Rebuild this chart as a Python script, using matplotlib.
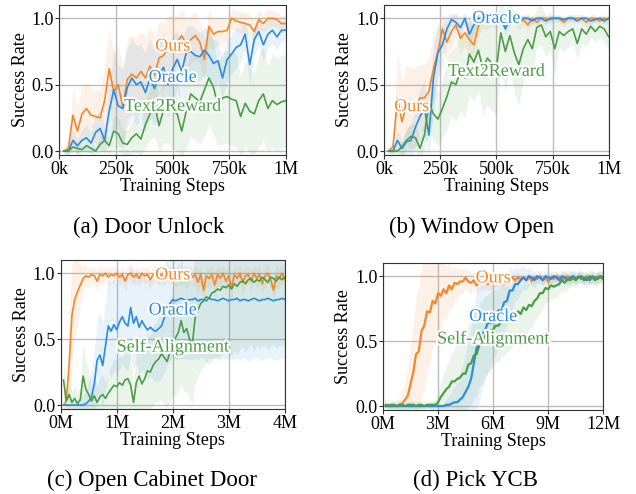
# Success-rate curves for four tasks (2x2 grid)
import numpy as np
import matplotlib
matplotlib.use('Agg')
import matplotlib.pyplot as plt
import matplotlib.patheffects as pe

plt.rcParams['font.family'] = ['Liberation Serif', 'DejaVu Serif']

ORANGE = '#f5872a'
BLUE = '#2a8be3'
GREEN = '#4b9e45'

# ---- (a) Door Unlock, evaluated every 20k steps ----
ours_a = [0.00, 0.02, 0.27, 0.15, 0.28, 0.32, 0.27, 0.26, 0.25, 0.38,
          0.62, 0.45, 0.50, 0.33, 0.54, 0.58, 0.55, 0.60, 0.55, 0.64,
          0.57, 0.70, 0.72, 0.78, 0.80, 0.82, 0.87, 0.80, 0.84, 0.87,
          0.82, 0.69, 0.94, 0.88, 0.90, 0.90, 0.91, 1.00, 0.98, 0.97,
          0.96, 0.95, 0.90, 0.99, 0.96, 1.00, 1.00, 0.99, 0.96, 0.96]
oracle_a = [0.00, 0.00, 0.08, 0.04, 0.08, 0.10, 0.06, 0.14, 0.17, 0.08,
            0.30, 0.46, 0.34, 0.32, 0.48, 0.55, 0.50, 0.52, 0.44, 0.55,
            0.47, 0.58, 0.63, 0.50, 0.62, 0.69, 0.60, 0.74, 0.75, 0.72,
            0.71, 0.76, 0.72, 0.66, 0.68, 0.55, 0.69, 0.73, 0.78, 0.80,
            0.88, 0.65, 0.84, 0.90, 0.80, 0.88, 0.91, 0.86, 0.91, 0.91]
t2r_a = [0.00, 0.00, 0.03, 0.02, 0.01, 0.04, 0.02, 0.00, 0.05, 0.08,
         0.04, 0.15, 0.13, 0.06, 0.05, 0.10, 0.13, 0.09, 0.20, 0.28,
         0.36, 0.19, 0.31, 0.34, 0.30, 0.28, 0.15, 0.30, 0.43, 0.40,
         0.37, 0.46, 0.55, 0.48, 0.34, 0.40, 0.41, 0.39, 0.38, 0.26,
         0.36, 0.30, 0.28, 0.38, 0.43, 0.32, 0.38, 0.35, 0.37, 0.38]
ours_a_std = [0.02, 0.05, 0.20, 0.20, 0.20, 0.20, 0.20, 0.20, 0.22, 0.25,
              0.30, 0.30, 0.30, 0.30, 0.30, 0.30, 0.30, 0.30, 0.30, 0.30,
              0.28, 0.28, 0.25, 0.25, 0.22, 0.20, 0.20, 0.20, 0.18, 0.18,
              0.15, 0.15, 0.12, 0.12, 0.10, 0.10, 0.08, 0.08, 0.08, 0.08,
              0.08, 0.08, 0.08, 0.07, 0.07, 0.07, 0.06, 0.06, 0.06, 0.06]
oracle_a_std = [0.02, 0.02, 0.08, 0.05, 0.08, 0.10, 0.08, 0.12, 0.15, 0.10,
                0.20, 0.30, 0.30, 0.30, 0.30, 0.30, 0.30, 0.28, 0.30, 0.30,
                0.28, 0.28, 0.25, 0.25, 0.25, 0.22, 0.22, 0.20, 0.20, 0.20,
                0.18, 0.18, 0.18, 0.18, 0.15, 0.15, 0.15, 0.15, 0.15, 0.12,
                0.12, 0.15, 0.12, 0.10, 0.12, 0.10, 0.10, 0.10, 0.08, 0.08]
t2r_a_std = [0.01, 0.02, 0.04, 0.04, 0.03, 0.05, 0.04, 0.03, 0.06, 0.08,
             0.06, 0.12, 0.12, 0.10, 0.10, 0.12, 0.14, 0.12, 0.18, 0.20,
             0.25, 0.20, 0.25, 0.28, 0.28, 0.28, 0.20, 0.28, 0.32, 0.32,
             0.32, 0.35, 0.35, 0.35, 0.30, 0.35, 0.35, 0.35, 0.35, 0.30,
             0.32, 0.32, 0.30, 0.35, 0.35, 0.32, 0.35, 0.35, 0.35, 0.35]

# ---- (b) Window Open, evaluated every 20k steps ----
ours_b = [0.00, 0.03, 0.40, 0.22, 0.35, 0.32, 0.33, 0.40, 0.40, 0.45,
          0.62, 0.75, 0.92, 0.82, 0.90, 0.95, 0.85, 0.89, 0.84, 0.80,
          0.94, 0.98, 0.96, 0.99, 0.97, 1.00, 0.97, 0.98, 1.00, 0.96,
          0.99, 0.95, 1.00, 0.97, 1.00, 1.00, 0.99, 1.00, 1.00, 0.97,
          1.00, 1.00, 1.00, 1.00, 0.97, 1.00, 1.00, 0.98, 1.00, 0.99]
oracle_b = [0.00, 0.00, 0.08, 0.02, 0.07, 0.08, 0.18, 0.26, 0.32, 0.12,
            0.55, 0.74, 0.80, 0.92, 0.99, 0.97, 0.93, 1.00, 0.88, 0.95,
            1.00, 1.00, 1.00, 0.99, 1.00, 1.00, 0.92, 1.00, 1.00, 0.99,
            1.00, 1.00, 0.98, 1.00, 1.00, 0.98, 1.00, 1.00, 1.00, 0.99,
            1.00, 1.00, 0.98, 1.00, 1.00, 0.98, 0.99, 1.00, 0.98, 1.00]
t2r_b = [0.00, 0.00, 0.00, 0.03, 0.08, 0.11, 0.10, 0.02, 0.12, 0.36,
         0.28, 0.24, 0.32, 0.41, 0.52, 0.50, 0.60, 0.55, 0.73, 0.67,
         0.76, 0.62, 0.70, 0.66, 0.62, 0.89, 0.75, 0.87, 0.74, 0.65,
         0.77, 0.84, 0.77, 0.93, 0.95, 0.86, 0.90, 0.77, 0.90, 0.87,
         0.90, 0.92, 0.81, 0.92, 0.88, 0.94, 0.90, 0.94, 0.92, 0.86]
ours_b_std = [0.02, 0.05, 0.35, 0.30, 0.30, 0.30, 0.30, 0.25, 0.25, 0.25,
              0.25, 0.20, 0.12, 0.15, 0.12, 0.08, 0.12, 0.10, 0.12, 0.12,
              0.08, 0.05, 0.05, 0.04, 0.05, 0.03, 0.05, 0.04, 0.03, 0.05,
              0.04, 0.05, 0.03, 0.04, 0.03, 0.03, 0.03, 0.03, 0.03, 0.04,
              0.03, 0.03, 0.03, 0.03, 0.04, 0.03, 0.03, 0.03, 0.03, 0.03]
oracle_b_std = [0.02, 0.02, 0.08, 0.05, 0.10, 0.12, 0.15, 0.20, 0.20, 0.15,
                0.25, 0.20, 0.15, 0.10, 0.05, 0.06, 0.08, 0.04, 0.10, 0.06,
                0.03, 0.03, 0.03, 0.03, 0.03, 0.03, 0.06, 0.02, 0.02, 0.02,
                0.02, 0.02, 0.03, 0.02, 0.02, 0.03, 0.02, 0.02, 0.02, 0.02,
                0.02, 0.02, 0.03, 0.02, 0.02, 0.03, 0.02, 0.02, 0.03, 0.02]
t2r_b_std = [0.01, 0.02, 0.03, 0.05, 0.08, 0.10, 0.10, 0.08, 0.12, 0.20,
             0.20, 0.20, 0.22, 0.25, 0.25, 0.28, 0.30, 0.30, 0.30, 0.30,
             0.30, 0.35, 0.35, 0.35, 0.35, 0.25, 0.30, 0.25, 0.30, 0.30,
             0.25, 0.20, 0.20, 0.15, 0.15, 0.15, 0.15, 0.20, 0.12, 0.12,
             0.12, 0.10, 0.12, 0.10, 0.10, 0.08, 0.08, 0.08, 0.10, 0.10]

# ---- (c) Open Cabinet Door, evaluated every 50k steps ----
ours_c = [0.00, 0.03, 0.30, 0.68, 0.80, 0.86, 0.91, 0.96, 0.98, 0.97,
          0.99, 0.98, 0.94, 0.99, 0.98, 1.00, 0.97, 0.99, 0.98, 1.00,
          0.97, 0.99, 0.94, 0.99, 1.00, 0.97, 0.99, 0.96, 1.00, 0.98,
          0.99, 0.95, 0.99, 1.00, 0.97, 0.99, 0.96, 1.00, 0.98, 0.99,
          0.96, 1.00, 0.97, 0.99, 0.95, 1.00, 0.97, 0.99, 0.93, 0.99,
          0.87, 0.98, 0.96, 0.99, 0.91, 0.99, 0.96, 1.00, 0.94, 0.98,
          0.89, 0.99, 0.96, 1.00, 0.93, 0.98, 0.99, 0.94, 1.00, 0.96,
          0.99, 0.92, 0.98, 1.00, 0.95, 0.87, 0.98, 0.96, 1.00, 0.95]
oracle_c = [0.00, 0.00, 0.00, 0.00, 0.00, 0.00, 0.00, 0.00, 0.01, 0.03,
            0.06, 0.16, 0.34, 0.38, 0.30, 0.45, 0.60, 0.56, 0.61, 0.57,
            0.63, 0.67, 0.62, 0.60, 0.74, 0.62, 0.67, 0.59, 0.64, 0.60,
            0.57, 0.59, 0.57, 0.56, 0.58, 0.60, 0.66, 0.72, 0.77, 0.80,
            0.79, 0.80, 0.81, 0.80, 0.79, 0.80, 0.80, 0.81, 0.79, 0.80,
            0.80, 0.79, 0.81, 0.80, 0.80, 0.79, 0.80, 0.81, 0.80, 0.79,
            0.80, 0.80, 0.81, 0.79, 0.80, 0.80, 0.79, 0.80, 0.81, 0.80,
            0.79, 0.80, 0.80, 0.81, 0.80, 0.79, 0.80, 0.80, 0.81, 0.80]
selfalign_c = [0.19, 0.03, 0.08, 0.02, 0.05, 0.01, 0.04, 0.22, 0.12, 0.08,
               0.03, 0.07, 0.02, 0.06, 0.08, 0.05, 0.09, 0.12, 0.15, 0.14,
               0.17, 0.15, 0.19, 0.20, 0.15, 0.02, 0.17, 0.22, 0.16, 0.20,
               0.26, 0.25, 0.30, 0.33, 0.35, 0.39, 0.36, 0.33, 0.40, 0.47,
               0.51, 0.55, 0.64, 0.55, 0.58, 0.50, 0.46, 0.66, 0.72, 0.77,
               0.79, 0.82, 0.81, 0.85, 0.86, 0.88, 0.87, 0.90, 0.89, 0.91,
               0.88, 0.92, 0.90, 0.93, 0.94, 0.92, 0.95, 0.96, 0.93, 0.95,
               0.94, 0.97, 0.95, 0.93, 0.97, 0.96, 0.94, 0.97, 0.95, 0.97]
ours_c_std = [0.02, 0.15, 0.40, 0.40, 0.30, 0.25, 0.15, 0.10, 0.08, 0.07,
              0.06, 0.06, 0.08, 0.06, 0.06, 0.05, 0.07, 0.06, 0.06, 0.05,
              0.06, 0.06, 0.08, 0.06, 0.05, 0.06, 0.06, 0.07, 0.05, 0.06,
              0.06, 0.07, 0.06, 0.05, 0.06, 0.07, 0.06, 0.06, 0.07, 0.06,
              0.07, 0.08, 0.06, 0.07, 0.08, 0.06, 0.07, 0.08, 0.09, 0.07,
              0.10, 0.08, 0.08, 0.07, 0.09, 0.07, 0.08, 0.06, 0.08, 0.07,
              0.10, 0.07, 0.08, 0.07, 0.09, 0.07, 0.06, 0.08, 0.06, 0.08,
              0.07, 0.06, 0.09, 0.07, 0.06, 0.08, 0.10, 0.07, 0.08, 0.07]
oracle_c_std = [0.01, 0.01, 0.01, 0.02, 0.03, 0.04, 0.06, 0.08, 0.10, 0.15,
                0.20, 0.25, 0.30, 0.32, 0.32, 0.34, 0.35, 0.36, 0.35, 0.34,
                0.36, 0.35, 0.35, 0.34, 0.36, 0.35, 0.36, 0.37, 0.36, 0.38,
                0.38, 0.37, 0.38, 0.39, 0.40, 0.40, 0.41, 0.42, 0.43, 0.44,
                0.45, 0.45, 0.46, 0.45, 0.44, 0.45, 0.46, 0.45, 0.45, 0.44,
                0.45, 0.46, 0.45, 0.45, 0.44, 0.45, 0.46, 0.45, 0.45, 0.44,
                0.45, 0.46, 0.45, 0.45, 0.44, 0.45, 0.46, 0.45, 0.45, 0.44,
                0.45, 0.46, 0.45, 0.45, 0.44, 0.45, 0.46, 0.45, 0.45, 0.45]
selfalign_c_std = [0.15, 0.10, 0.10, 0.08, 0.10, 0.08, 0.10, 0.25, 0.20, 0.18,
                   0.12, 0.15, 0.12, 0.15, 0.15, 0.12, 0.15, 0.18, 0.20, 0.20,
                   0.20, 0.22, 0.22, 0.22, 0.22, 0.15, 0.22, 0.25, 0.25, 0.25,
                   0.28, 0.28, 0.30, 0.30, 0.32, 0.35, 0.35, 0.35, 0.38, 0.40,
                   0.45, 0.45, 0.48, 0.45, 0.48, 0.45, 0.45, 0.50, 0.50, 0.50,
                   0.50, 0.50, 0.50, 0.51, 0.50, 0.52, 0.50, 0.51, 0.50, 0.52,
                   0.51, 0.50, 0.52, 0.51, 0.50, 0.52, 0.51, 0.50, 0.52, 0.50,
                   0.51, 0.52, 0.50, 0.51, 0.52, 0.50, 0.51, 0.52, 0.50, 0.51]

# ---- (d) Pick YCB, evaluated every 150k steps ----
ours_d = [0.00, 0.01, 0.00, 0.01, 0.00, 0.01, 0.02, 0.05, 0.08, 0.17,
          0.26, 0.40, 0.42, 0.58, 0.62, 0.73, 0.72, 0.81, 0.79, 0.87,
          0.85, 0.90, 0.87, 0.93, 0.90, 0.95, 0.94, 0.96, 0.96, 0.99,
          0.96, 0.95, 0.97, 0.93, 0.96, 0.95, 0.97, 0.94, 0.96, 0.94,
          0.97, 0.95, 0.97, 0.94, 0.96, 0.98, 0.99, 0.97, 0.99, 0.98,
          0.99, 0.97, 1.00, 0.96, 0.99, 0.98, 1.00, 0.97, 0.99, 0.96,
          0.99, 0.98, 1.00, 0.99, 0.97, 0.99, 1.00, 0.97, 0.99, 0.97,
          1.00, 0.99, 0.97, 1.00, 0.97, 0.99, 0.98, 1.00, 0.99, 0.98]
oracle_d = [0.00, 0.00, 0.00, 0.00, 0.00, 0.00, 0.00, 0.00, 0.00, 0.00,
            0.00, 0.00, 0.00, 0.00, 0.00, 0.00, 0.00, 0.00, 0.00, 0.00,
            0.00, 0.00, 0.01, 0.01, 0.02, 0.03, 0.03, 0.05, 0.07, 0.11,
            0.15, 0.21, 0.33, 0.45, 0.48, 0.56, 0.58, 0.64, 0.64, 0.70,
            0.69, 0.74, 0.73, 0.80, 0.81, 0.89, 0.89, 0.94, 0.94, 0.97,
            0.99, 0.97, 1.00, 0.99, 0.97, 1.00, 0.99, 0.97, 1.00, 0.99,
            0.98, 1.00, 0.99, 0.97, 1.00, 0.99, 0.97, 0.99, 1.00, 0.98,
            0.99, 1.00, 0.97, 0.99, 0.97, 1.00, 0.99, 0.98, 1.00, 0.99]
selfalign_d = [0.01, 0.00, 0.01, 0.01, 0.00, 0.01, 0.01, 0.00, 0.01, 0.01,
               0.01, 0.00, 0.01, 0.01, 0.00, 0.01, 0.01, 0.01, 0.01, 0.03,
               0.07, 0.10, 0.13, 0.15, 0.19, 0.19, 0.21, 0.22, 0.25, 0.25,
               0.32, 0.33, 0.39, 0.40, 0.47, 0.49, 0.54, 0.55, 0.58, 0.59,
               0.62, 0.62, 0.66, 0.65, 0.67, 0.67, 0.70, 0.70, 0.73, 0.71,
               0.76, 0.74, 0.78, 0.77, 0.81, 0.83, 0.87, 0.87, 0.91, 0.90,
               0.93, 0.92, 0.93, 0.94, 0.97, 0.95, 0.98, 0.97, 0.99, 0.97,
               1.00, 0.98, 0.99, 0.97, 1.00, 0.99, 0.97, 0.99, 1.00, 0.98]
ours_d_std = [0.02, 0.02, 0.02, 0.03, 0.04, 0.06, 0.10, 0.15, 0.20, 0.30,
              0.38, 0.45, 0.50, 0.50, 0.50, 0.45, 0.40, 0.35, 0.30, 0.28,
              0.25, 0.22, 0.20, 0.18, 0.15, 0.13, 0.12, 0.10, 0.09, 0.08,
              0.08, 0.08, 0.07, 0.07, 0.06, 0.06, 0.06, 0.05, 0.06, 0.05,
              0.05, 0.05, 0.04, 0.05, 0.04, 0.04, 0.04, 0.04, 0.04, 0.04,
              0.03, 0.04, 0.03, 0.03, 0.04, 0.03, 0.03, 0.04, 0.03, 0.04,
              0.03, 0.03, 0.04, 0.03, 0.03, 0.04, 0.03, 0.03, 0.04, 0.03,
              0.03, 0.04, 0.03, 0.03, 0.04, 0.03, 0.03, 0.04, 0.03, 0.03]
oracle_d_std = [0.02, 0.02, 0.02, 0.02, 0.02, 0.02, 0.02, 0.02, 0.02, 0.02,
                0.02, 0.02, 0.02, 0.02, 0.02, 0.02, 0.02, 0.02, 0.02, 0.02,
                0.02, 0.02, 0.05, 0.07, 0.10, 0.12, 0.15, 0.20, 0.25, 0.30,
                0.35, 0.40, 0.42, 0.45, 0.45, 0.42, 0.40, 0.38, 0.35, 0.32,
                0.30, 0.28, 0.25, 0.22, 0.20, 0.18, 0.15, 0.13, 0.12, 0.10,
                0.09, 0.08, 0.07, 0.06, 0.06, 0.05, 0.05, 0.04, 0.05, 0.04,
                0.05, 0.04, 0.05, 0.04, 0.04, 0.05, 0.04, 0.05, 0.04, 0.04,
                0.05, 0.04, 0.05, 0.04, 0.04, 0.05, 0.04, 0.05, 0.04, 0.04]
selfalign_d_std = [0.03, 0.03, 0.04, 0.03, 0.03, 0.04, 0.03, 0.03, 0.04, 0.03,
                   0.03, 0.04, 0.03, 0.03, 0.04, 0.03, 0.03, 0.04, 0.03, 0.08,
                   0.12, 0.15, 0.18, 0.20, 0.22, 0.25, 0.28, 0.30, 0.30, 0.32,
                   0.32, 0.32, 0.33, 0.33, 0.32, 0.32, 0.31, 0.30, 0.30, 0.29,
                   0.28, 0.28, 0.27, 0.26, 0.25, 0.25, 0.24, 0.23, 0.22, 0.21,
                   0.20, 0.19, 0.18, 0.17, 0.16, 0.15, 0.15, 0.12, 0.11, 0.10,
                   0.10, 0.09, 0.09, 0.08, 0.08, 0.07, 0.07, 0.06, 0.06, 0.06,
                   0.05, 0.05, 0.05, 0.05, 0.05, 0.05, 0.05, 0.05, 0.05, 0.05]

# evaluation step grids (k steps for a/b, M steps for c/d)
steps_a = np.arange(1, len(ours_a) + 1) * 20
steps_b = np.arange(1, len(ours_b) + 1) * 20
steps_c = np.arange(1, len(ours_c) + 1) * 0.05
steps_d = np.arange(1, len(ours_d) + 1) * 0.15

xticks_ab = [0, 250, 500, 750, 1000]
xticklabels_ab = ['0k', '250k', '500k', '750k', '1M']
xticks_c = [0, 1, 2, 3, 4]
xticklabels_c = ['0M', '1M', '2M', '3M', '4M']
xticks_d = [0, 3, 6, 9, 12]
xticklabels_d = ['0M', '3M', '6M', '9M', '12M']


def draw_panel(ax, steps, series, xticks, xticklabels, text_y, lw=1.2):
    # shaded std band + mean curve for every method
    for values, std, color in series:
        values = np.array(values)
        std = np.array(std)
        ax.fill_between(steps, values - std, values + std, color=color,
                        alpha=0.11, lw=0)
    for values, std, color in series:
        ax.plot(steps, values, color=color, lw=lw)

    xmid = xticks[-1] / 2
    for (name, y), (values, std, color) in zip(text_y, series):
        ax.text(xmid, y, name, color=color, fontsize=13, ha='center',
                va='center', zorder=5,
                path_effects=[pe.withStroke(linewidth=3, foreground='white')])

    ax.set_xlim(xticks[0], xticks[-1])
    ax.set_ylim(-0.03, 1.1)
    ax.set_xticks(xticks)
    ax.set_xticklabels(xticklabels)
    ax.set_yticks([0.0, 0.5, 1.0])
    ax.set_yticklabels(['0.0', '0.5', '1.0'])
    ax.grid(True, color='#bdbdbd', lw=1)
    ax.set_axisbelow(True)
    ax.tick_params(labelsize=13, length=3, pad=1, color='#333333')
    for spine in ax.spines.values():
        spine.set_color('#333333')
    ax.set_xlabel('Training Steps', fontsize=13, labelpad=0)
    ax.set_ylabel('Success Rate', fontsize=13, labelpad=2)


fig = plt.figure(figsize=(6.36, 4.94), dpi=100)
W, H = 636.0, 494.0


def add_axes(left, right, top, bottom):
    return fig.add_axes([left / W, 1 - bottom / H, (right - left) / W,
                         (bottom - top) / H])


ax_a = add_axes(59.3, 286, 5, 155)
ax_b = add_axes(384, 608.7, 5, 155)
ax_c = add_axes(60.7, 284.7, 260, 409)
ax_d = add_axes(383, 603.3, 263.3, 410)

draw_panel(ax_a, steps_a,
           [(ours_a, ours_a_std, ORANGE), (oracle_a, oracle_a_std, BLUE),
            (t2r_a, t2r_a_std, GREEN)],
           xticks_ab, xticklabels_ab,
           [('Ours', 0.79), ('Oracle', 0.555), ('Text2Reward', 0.337)])

draw_panel(ax_b, steps_b,
           [(ours_b, ours_b_std, ORANGE), (oracle_b, oracle_b_std, BLUE),
            (t2r_b, t2r_b_std, GREEN)],
           xticks_ab, xticklabels_ab,
           [('Ours', None), ('Oracle', 1.0), ('Text2Reward', 0.6)])

draw_panel(ax_c, steps_c,
           [(ours_c, ours_c_std, ORANGE), (oracle_c, oracle_c_std, BLUE),
            (selfalign_c, selfalign_c_std, GREEN)],
           xticks_c, xticklabels_c,
           [('Ours', 0.987), ('Oracle', 0.72), ('Self-Alignment', 0.443)])

draw_panel(ax_d, steps_d,
           [(ours_d, ours_d_std, ORANGE), (oracle_d, oracle_d_std, BLUE),
            (selfalign_d, selfalign_d_std, GREEN)],
           xticks_d, xticklabels_d,
           [('Ours', 0.987), ('Oracle', 0.69), ('Self-Alignment', 0.52)],
           lw=1.6)

# "Ours" in panel (b) sits at the far left instead of the middle
ax_b.texts[0].set_position((123, 0.335))

# sub-captions
fig.text(149 / W, 1 - 227 / H, '(a) Door Unlock', fontsize=16.5, ha='center', va='center')
fig.text(472 / W, 1 - 227 / H, '(b) Window Open', fontsize=16.5, ha='center', va='center')
fig.text(152 / W, 1 - 480 / H, '(c) Open Cabinet Door', fontsize=16.5, ha='center', va='center')
fig.text(476 / W, 1 - 480 / H, '(d) Pick YCB', fontsize=16.5, ha='center', va='center')

fig.savefig('out.png', dpi=100)
